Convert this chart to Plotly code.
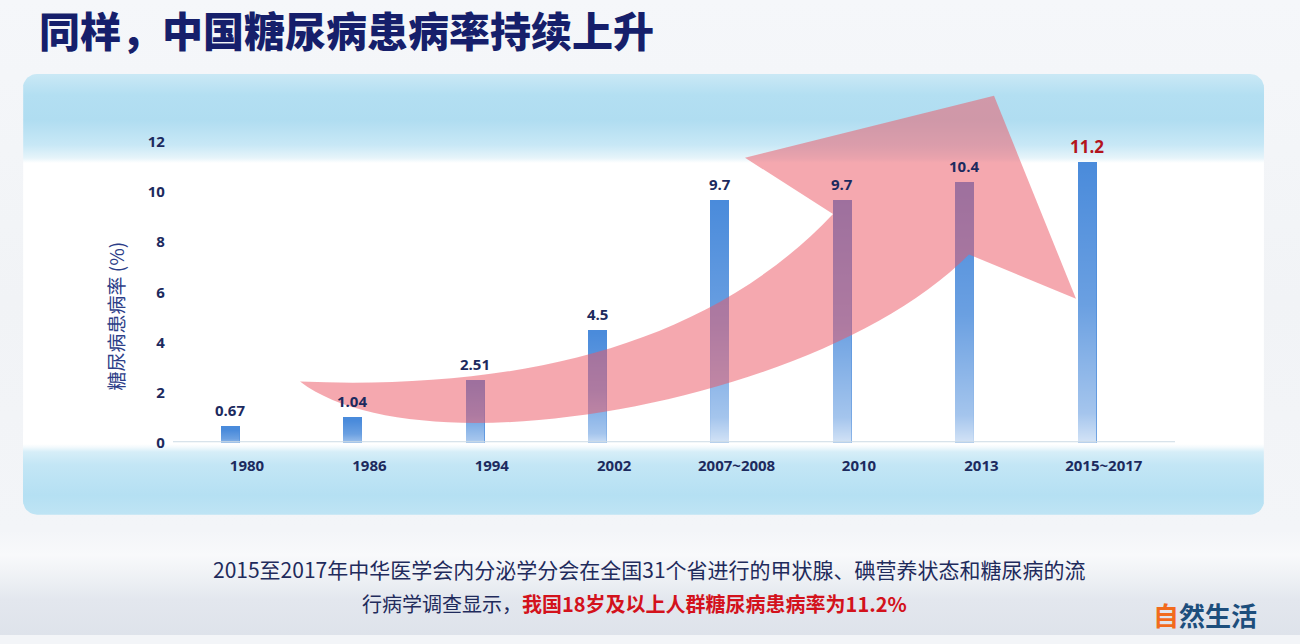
import numpy as np
import plotly.graph_objects as go

# ---------------- data ----------------
categories = ["1980", "1986", "1994", "2002", "2007~2008", "2010", "2013", "2015~2017"]
prevalence = [0.67, 1.04, 2.51, 4.5, 9.7, 9.7, 10.4, 11.2]
value_labels = ["0.67", "1.04", "2.51", "4.5", "9.7", "9.7", "10.4", "11.2"]
y_ticks = [0, 2, 4, 6, 8, 10, 12]

title_text = "同样，中国糖尿病患病率持续上升"
y_title = "糖尿病患病率 (%)"
caption_1 = "2015至2017年中华医学会内分泌学分会在全国31个省进行的甲状腺、碘营养状态和糖尿病的流"
caption_2a = "行病学调查显示，"
caption_2b = "我国18岁及以上人群糖尿病患病率为11.2%"
logo_a = "自"
logo_b = "然生活"

# ---------------- geometry helpers ----------------
W, H = 1300, 644


def px(x):
    return x / W


def py(y):
    return 1 - y / H


Y0PX = 449.0
PXU = 305.0 / 12.0
YMAX = 12.6
XL, XR = 168.8, 1148.0
BAR_W = 19.0 / 122.4

CJK = "Noto Sans CJK SC"
NUM = "Open Sans"
NAVY = "#1c2a5e"


def rounded_rect(x0, y0, x1, y1, r, n=10):
    xs, ys = [], []
    corners = [
        (x1 - r, y0 + r, -np.pi / 2, 0),
        (x1 - r, y1 - r, 0, np.pi / 2),
        (x0 + r, y1 - r, np.pi / 2, np.pi),
        (x0 + r, y0 + r, np.pi, 1.5 * np.pi),
    ]
    for cx, cy, a0, a1 in corners:
        for a in np.linspace(a0, a1, n):
            xs.append(cx + r * np.cos(a))
            ys.append(H - (cy + r * np.sin(a)))
    xs.append(xs[0])
    ys.append(ys[0])
    return xs, ys


fig = go.Figure()

# background of slide
bg_stops = [(644, "#dde2ea"), (600, "#e3e7ee"), (580, "#edf0f4"), (555, "#f8f9fb"),
            (530, "#f3f5f8"), (300, "#f1f3f6"), (0, "#f5f7fa")]
fig.add_trace(go.Scatter(
    x=[0, W, W, 0, 0], y=[0, 0, H, H, 0], mode="lines", fill="toself",
    line=dict(width=0), hoverinfo="skip", showlegend=False,
    fillgradient=dict(type="vertical", start=0, stop=H,
                      colorscale=[[(H - p) / H, c] for p, c in bg_stops]),
    xaxis="x", yaxis="y"))

# panel
pan_stops = [(522, "#cbe9f6"), (515, "#bfe4f4"), (495, "#b5e0f3"), (465, "#c3e6f5"),
             (452, "#d6eef8"), (447, "#f4fafd"), (444, "#ffffff"), (163, "#ffffff"),
             (158, "#e6f4fa"), (145, "#c8e8f6"), (120, "#b0ddf1"), (95, "#b3dff2"),
             (75, "#c9e8f5")]
pxs, pys = rounded_rect(23, 75, 1264, 522, 14)
fig.add_trace(go.Scatter(
    x=pxs, y=pys, mode="lines", fill="toself", line=dict(width=0),
    hoverinfo="skip", showlegend=False,
    fillgradient=dict(type="vertical", start=H - 522, stop=H - 75,
                      colorscale=[[(522 - p) / 447, c] for p, c in pan_stops]),
    xaxis="x", yaxis="y"))

# bars
idx = list(range(len(categories)))
fig.add_trace(go.Bar(
    x=idx, y=prevalence, width=BAR_W, marker=dict(color="#4a8bdb", line=dict(width=0)),
    hoverinfo="skip", showlegend=False, xaxis="x2", yaxis="y2"))

# per-bar fading sheen (computed from the data values)
for i, v in zip(idx, prevalence):
    x0, x1 = i - BAR_W / 2, i + BAR_W / 2
    fig.add_trace(go.Scatter(
        x=[x0, x1, x1, x0, x0], y=[0, 0, v, v, 0], mode="lines", fill="toself",
        line=dict(width=0), hoverinfo="skip", showlegend=False,
        fillgradient=dict(type="vertical", start=0, stop=v,
                          colorscale=[[0, "rgba(255,255,255,0.8)"],
                                      [0.12, "rgba(255,255,255,0.5)"],
                                      [0.5, "rgba(255,255,255,0.18)"],
                                      [1, "rgba(255,255,255,0)"]]),
        xaxis="x2", yaxis="y2"))

shapes = []
# baseline
shapes.append(dict(type="line", xref="paper", yref="paper", x0=px(173), x1=px(1175),
                   y0=py(448), y1=py(448), line=dict(color="#cddbe5", width=1), layer="above"))


# big pink arrow (decoration)
def P(x, y):
    return f"{px(x):.5f},{py(y):.5f}"


arrow_path = (f"M {P(300,387)} C {P(500,395)} {P(700,360)} {P(833,217)} "
              f"L {P(745,160)} L {P(994,97)} L {P(1076,303)} L {P(969,258)} "
              f"C {P(820,410)} {P(420,480)} {P(300,387)} Z")
shapes.append(dict(type="path", xref="paper", yref="paper", path=arrow_path,
                   fillcolor="rgba(236,88,102,0.52)", line=dict(width=0), layer="above"))

annotations = []
# value labels
for i, v, t in zip(idx, prevalence, value_labels):
    last = (i == len(idx) - 1)
    annotations.append(dict(
        x=i, y=v, xref="x2", yref="y2", text=t, showarrow=False, yshift=16,
        yanchor="middle", xanchor="center",
        font=dict(family=NUM, size=17 if last else 15, weight=700,
                  color="#b3141d" if last else NAVY)))

# y axis title
annotations.append(dict(x=px(116), y=py(320), xref="paper", yref="paper", text=y_title,
                        textangle=-90, showarrow=False, xanchor="center", yanchor="middle",
                        font=dict(family=CJK, size=19, color="#2d3e88")))
# title
annotations.append(dict(x=px(37), y=py(29), xref="paper", yref="paper", text=title_text,
                        xanchor="left", yanchor="middle", showarrow=False,
                        font=dict(family=CJK, size=41, weight=900, color="#161f6b")))
# caption
annotations.append(dict(x=px(649), y=py(577), xref="paper", yref="paper", text=caption_1,
                        xanchor="center", yanchor="middle", showarrow=False,
                        font=dict(family=CJK, size=21, color="#1f2b5c")))
annotations.append(dict(x=px(634), y=py(612), xref="paper", yref="paper",
                        text=caption_2a + f"<span style='color:#d3121c'><b>{caption_2b}</b></span>",
                        xanchor="center", yanchor="middle", showarrow=False,
                        font=dict(family=CJK, size=20, color="#1f2b5c")))
# logo text
annotations.append(dict(x=px(1205), y=py(623), xref="paper", yref="paper",
                        text=f"<span style='color:#f26b1d'>{logo_a}</span>{logo_b}",
                        xanchor="center", yanchor="middle", showarrow=False,
                        font=dict(family=CJK, size=26, weight=700, color="#1d4e7c")))

fig.update_layout(
    width=W, height=H, autosize=False,
    margin=dict(l=0, r=0, t=0, b=0, pad=0),
    paper_bgcolor="#f3f5f8", plot_bgcolor="rgba(0,0,0,0)",
    showlegend=False, bargap=0,
    xaxis=dict(domain=[0, 1], range=[0, W], visible=False, fixedrange=True),
    yaxis=dict(domain=[0, 1], range=[0, H], visible=False, fixedrange=True),
    xaxis2=dict(domain=[px(XL), px(XR)], range=[-0.5, len(categories) - 0.5],
                anchor="y2", tickmode="array", tickvals=idx, ticktext=categories,
                showgrid=False, zeroline=False, showline=False, ticks="",
                ticklabelstandoff=12, ticklabelshift=17, fixedrange=True,
                tickfont=dict(family=NUM, size=15, weight=700, color=NAVY)),
    yaxis2=dict(domain=[py(Y0PX), py(Y0PX - YMAX * PXU)], range=[0, YMAX],
                anchor="x2", tickmode="array", tickvals=y_ticks,
                showgrid=False, zeroline=False, showline=False, ticks="",
                ticklabelstandoff=3, fixedrange=True,
                tickfont=dict(family=NUM, size=15, weight=700, color=NAVY)),
    shapes=shapes,
    annotations=annotations,
)

# fit the figure to the actual browser viewport (no page margins)
post = (
    "document.documentElement.style.margin='0';"
    "document.documentElement.style.overflow='hidden';"
    "document.documentElement.style.background='#dde2ea';"
    "document.body.style.margin='0';"
    "document.body.style.overflow='hidden';"
    "document.body.style.background='#dde2ea';"
    "var d=document.getElementById('{plot_id}');"
    "d.style.position='fixed';d.style.left='0px';d.style.top='0px';"
    "var vh=window.innerHeight||document.documentElement.clientHeight;"
    "if(vh&&Math.abs(vh-644)<80){d.style.height=vh+'px';Plotly.relayout(d,{height:vh});}"
)

fig.write_html("out.html", post_script=post,
               config={"displayModeBar": False, "responsive": False})
